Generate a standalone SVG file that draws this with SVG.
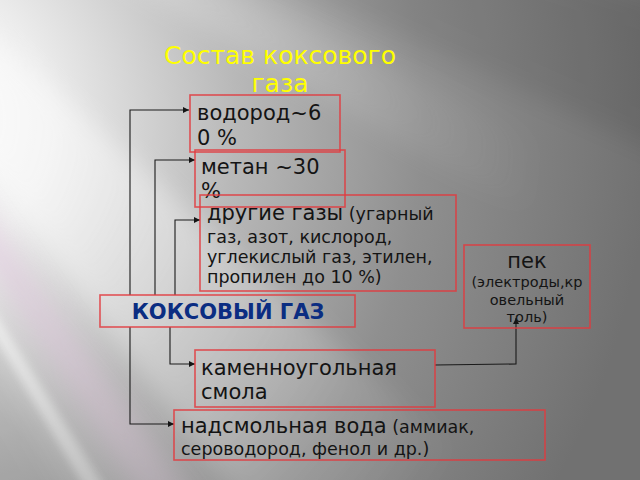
<svg xmlns="http://www.w3.org/2000/svg" width="640" height="480" viewBox="0 0 640 480">
<defs>
<radialGradient id="bg" gradientUnits="userSpaceOnUse" cx="-100" cy="120" r="750">
<stop offset="0" stop-color="#ffffff"/>
<stop offset="0.2" stop-color="#ececec"/>
<stop offset="0.45" stop-color="#b8b8b8"/>
<stop offset="0.7" stop-color="#8f8f8f"/>
<stop offset="1" stop-color="#717171"/>
</radialGradient>
<radialGradient id="fade" gradientUnits="userSpaceOnUse" cx="-100" cy="120" r="650">
<stop offset="0" stop-color="#ffffff" stop-opacity="1"/>
<stop offset="0.5" stop-color="#ffffff" stop-opacity="0.55"/>
<stop offset="1" stop-color="#ffffff" stop-opacity="0"/>
</radialGradient>
<radialGradient id="fadePink" gradientUnits="userSpaceOnUse" cx="-100" cy="120" r="650">
<stop offset="0" stop-color="#e6cfe4" stop-opacity="0.9"/>
<stop offset="0.6" stop-color="#d9c2d6" stop-opacity="0.5"/>
<stop offset="1" stop-color="#d9c2d6" stop-opacity="0"/>
</radialGradient>
<filter id="blur" x="-20%" y="-20%" width="140%" height="140%">
<feGaussianBlur stdDeviation="12"/>
</filter>
<filter id="blurS" x="-20%" y="-20%" width="140%" height="140%">
<feGaussianBlur stdDeviation="4"/>
</filter>
<marker id="arr" markerUnits="userSpaceOnUse" markerWidth="7" markerHeight="6" refX="6" refY="3" orient="auto">
<path d="M0,0 L6,3 L0,6 Z" fill="#141414"/>
</marker>
<style>
.box{fill:none;stroke:#e2393e;stroke-opacity:0.85;stroke-width:1.6}
.t{font-family:"DejaVu Sans","Noto Sans",sans-serif;fill:#141414}
.big{font-size:21px}
.sm{font-size:17.5px}
.title{font-family:"DejaVu Sans","Noto Sans",sans-serif;font-size:25px;fill:#ffff00}
.conn{fill:none;stroke:#1a1a1a;stroke-width:1.1}
</style>
</defs>

<g id="background">
<rect x="0" y="0" width="640" height="480" fill="url(#bg)"/>
<polygon points="-400,-320 1130,148 1062,331" fill="#000000" opacity="0.08" filter="url(#blur)"/>
<polygon points="-400,-320 1038,381 986,480" fill="url(#fade)" opacity="0.35" filter="url(#blur)"/>
<polygon points="-400,-320 789,751 585,941" fill="url(#fade)" opacity="0.6" filter="url(#blur)"/>
<polygon points="-400,-320 540,974 483,1014" fill="url(#fadePink)" opacity="0.8" filter="url(#blur)"/>
<polygon points="-400,-320 448,1037 424,1052" fill="url(#fade)" opacity="0.7" filter="url(#blurS)"/>
<polygon points="-400,-320 400,1066 147,1184" fill="#000000" opacity="0.06" filter="url(#blur)"/>
</g>

<g id="title">
<text class="title" x="280" y="64" text-anchor="middle">Состав коксового</text>
<text class="title" x="280" y="92" text-anchor="middle">газа</text>
</g>

<g id="connectors">
<polyline class="conn" points="130,295 130,110 189,110" marker-end="url(#arr)"/>
<polyline class="conn" points="155,295 155,160 195,160" marker-end="url(#arr)"/>
<polyline class="conn" points="175,295 175,220 200,220" marker-end="url(#arr)"/>
<polyline class="conn" points="130,327 130,424 174,424" marker-end="url(#arr)"/>
<polyline class="conn" points="170,327 170,364 195,364" marker-end="url(#arr)"/>
<polyline class="conn" points="435,365 516,364 516,318" marker-end="url(#arr)"/>
</g>

<g id="node-vodorod">
<rect class="box" x="190" y="95" width="150" height="57"/>
<text class="t big" x="197" y="120">водород~6</text>
<text class="t big" x="197" y="145">0 %</text>
</g>

<g id="node-metan">
<rect class="box" x="195" y="150" width="150" height="57"/>
<text class="t big" x="201" y="174">метан ~30</text>
<text class="t big" x="201" y="198">%</text>
</g>

<g id="node-drugie">
<rect class="box" x="200" y="195" width="256" height="96"/>
<text class="t" x="207" y="220"><tspan class="big">другие газы</tspan><tspan class="sm"> (угарный</tspan></text>
<text class="t sm" x="207" y="243">газ, азот, кислород,</text>
<text class="t sm" x="207" y="263">углекислый газ, этилен,</text>
<text class="t sm" x="207" y="283">пропилен до 10 %)</text>
</g>

<g id="node-koks">
<rect class="box" x="100" y="295" width="255" height="32"/>
<text x="228" y="319" text-anchor="middle" font-family="DejaVu Sans, Noto Sans, sans-serif" font-weight="bold" font-size="21" fill="#0b2d82">КОКСОВЫЙ ГАЗ</text>
</g>

<g id="node-pek">
<rect class="box" x="464" y="245" width="126" height="83"/>
<text class="t big" x="527" y="268" text-anchor="middle">пек</text>
<text class="t" x="527" y="287" text-anchor="middle" font-size="14.5">(электроды,кр</text>
<text class="t" x="527" y="305" text-anchor="middle" font-size="14.5">овельный</text>
<text class="t" x="527" y="322" text-anchor="middle" font-size="14.5">толь)</text>
</g>

<g id="node-smola">
<rect class="box" x="195" y="350" width="240" height="57"/>
<text class="t big" x="201" y="375">каменноугольная</text>
<text class="t big" x="201" y="399">смола</text>
</g>

<g id="node-voda">
<rect class="box" x="174" y="410" width="371" height="50"/>
<text class="t" x="181" y="433"><tspan class="big">надсмольная вода</tspan><tspan class="sm"> (аммиак,</tspan></text>
<text class="t sm" x="181" y="455">сероводород, фенол и др.)</text>
</g>
</svg>
